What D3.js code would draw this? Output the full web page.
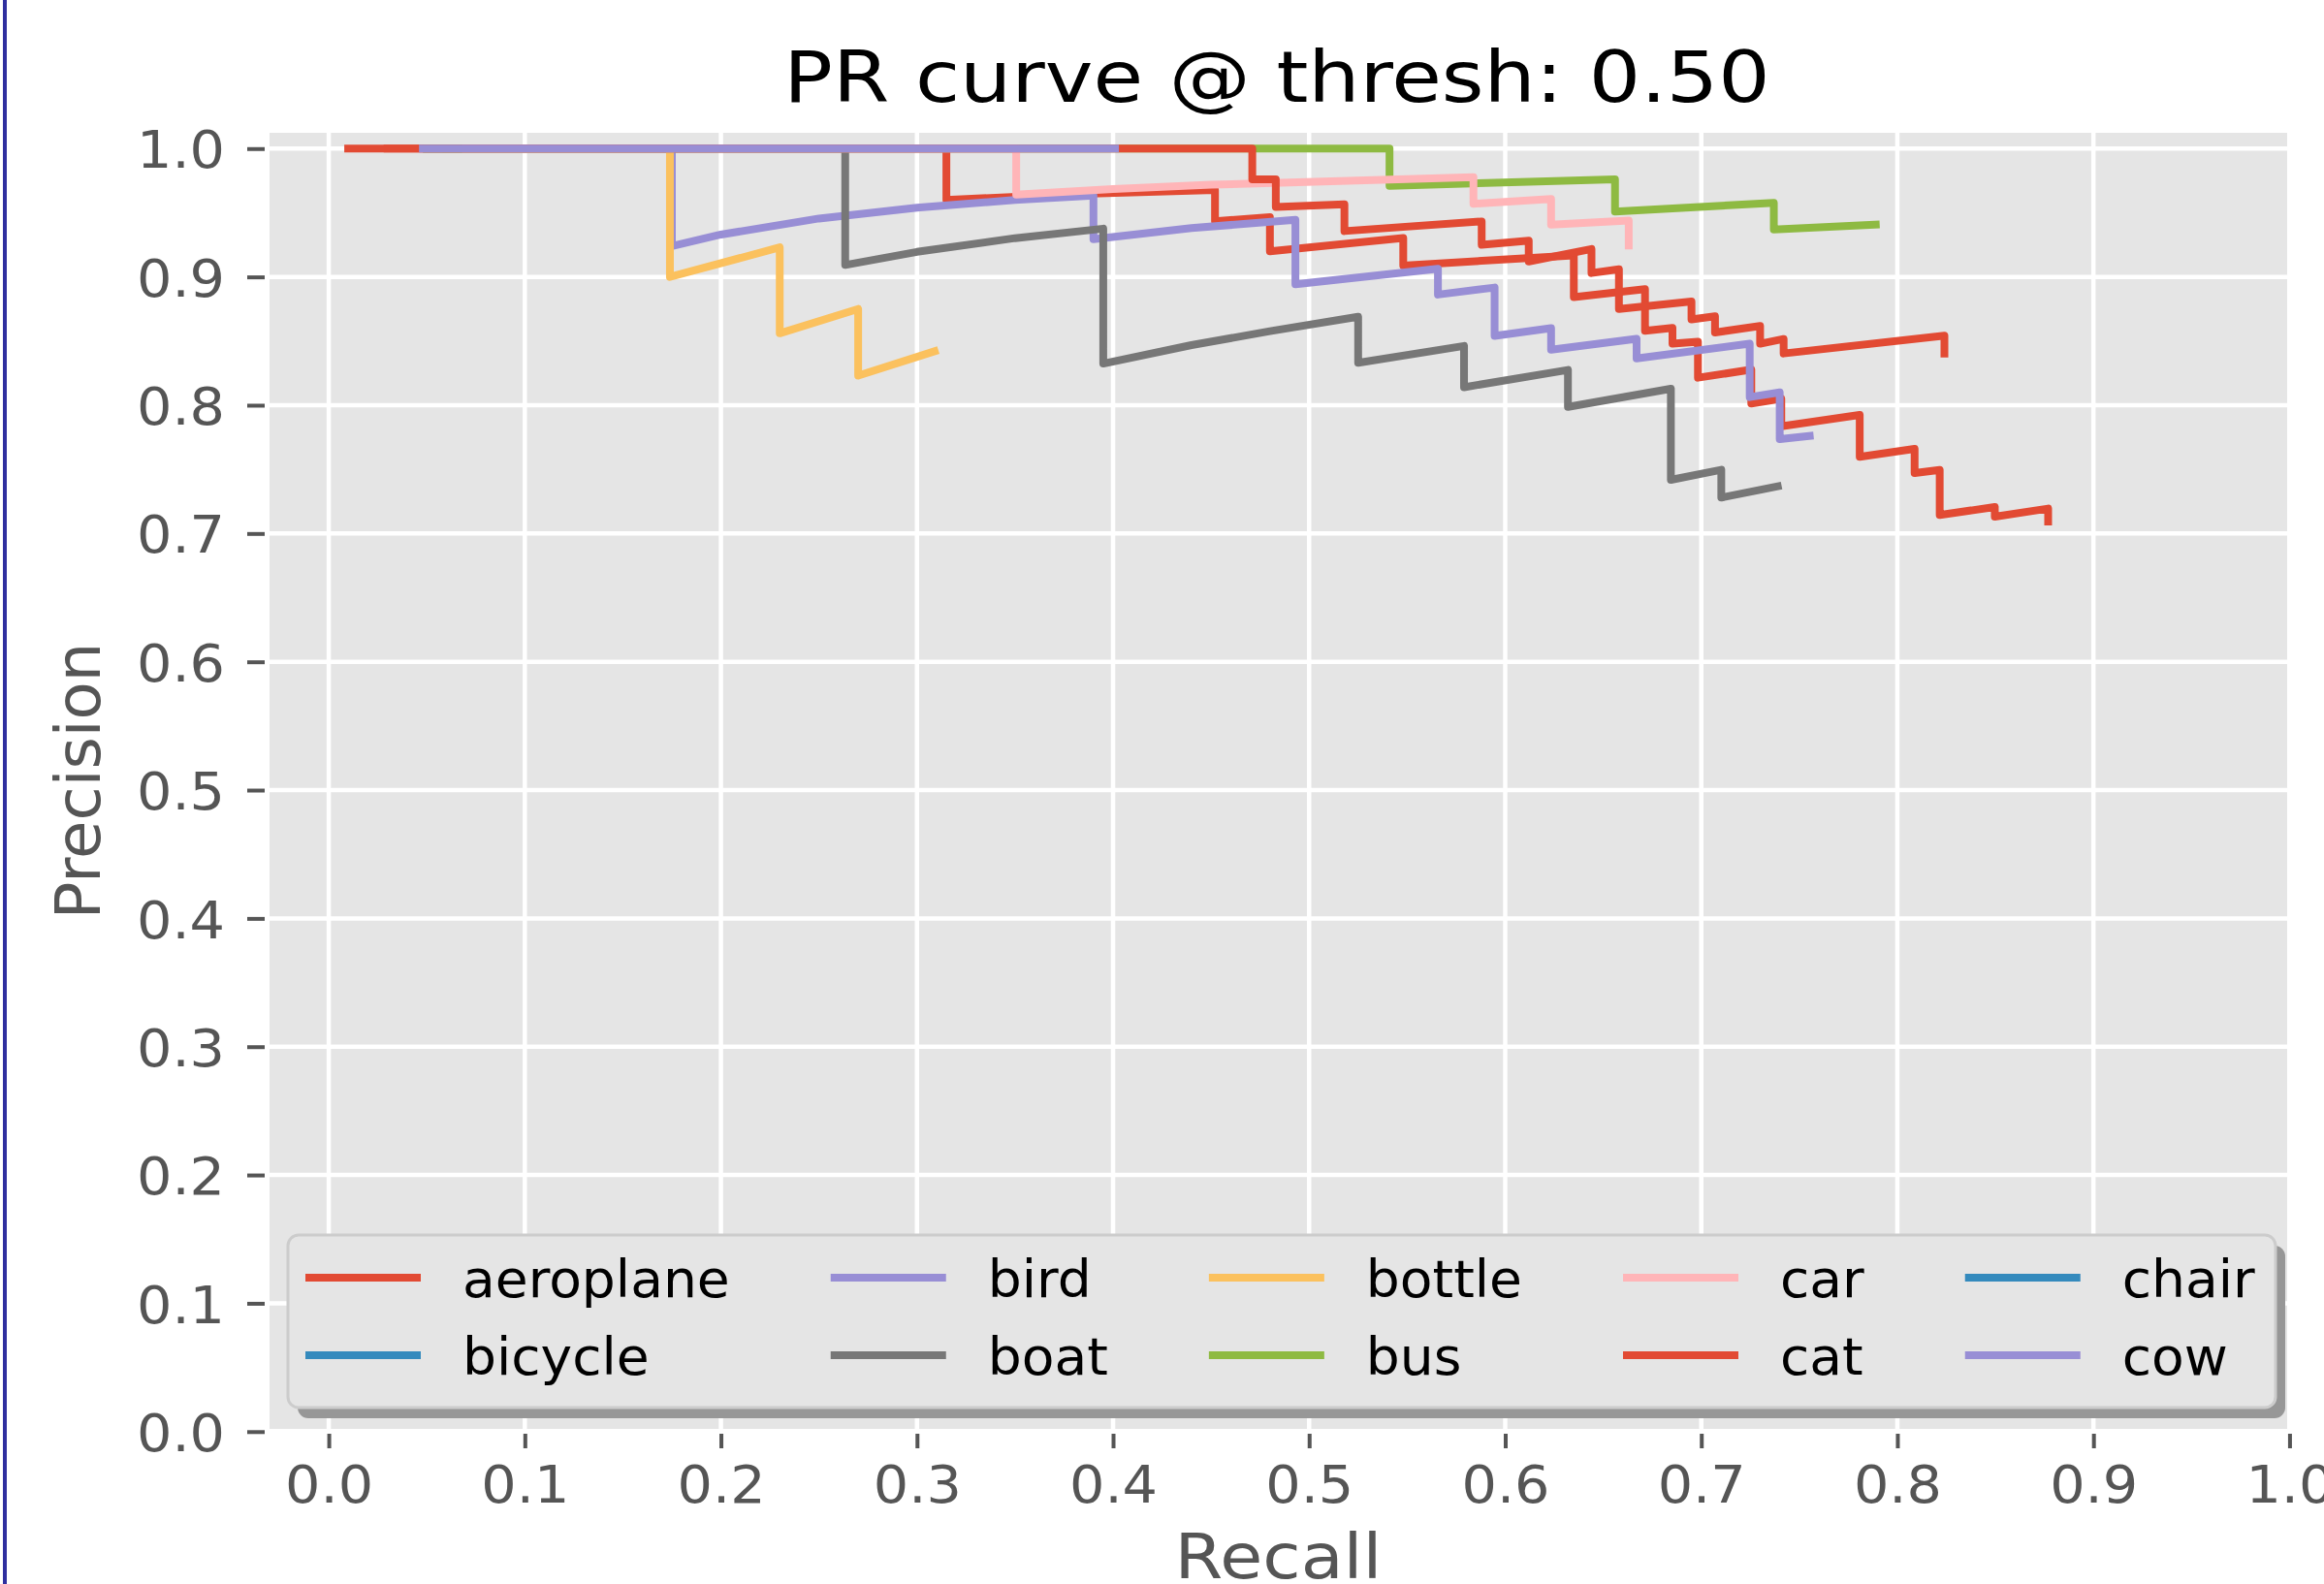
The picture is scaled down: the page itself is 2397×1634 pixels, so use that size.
<!DOCTYPE html>
<html>
<head>
<meta charset="utf-8">
<script src="https://cdn.jsdelivr.net/npm/d3@7"></script>
<style>
  body { margin: 0; background: #fff; }
  svg { display: block; font-family: "DejaVu Sans", sans-serif; }
</style>
</head>
<body>
<svg id="chart" width="2397" height="1634"></svg>
<script>
//class names, in the order they are plotted
var classes = ["aeroplane", "bicycle", "bird", "boat", "bottle", "bus", "car", "cat", "chair", "cow"];

//[recall, precision] points
var aeroplanePts = [[0.03,1.0],[0.315,1.0],[0.315,0.960],[0.38,0.9645],[0.452,0.9677],[0.452,0.9433],[0.480,0.9466],
    [0.480,0.9200],[0.548,0.9303],[0.548,0.9088],[0.635,0.9168],[0.635,0.8842],[0.6713,0.8905],[0.6713,0.858],
    [0.6853,0.8603],[0.6853,0.8479],[0.6983,0.8495],[0.6983,0.8214],[0.7255,0.8277],[0.7255,0.8013],[0.7408,0.805],
    [0.7408,0.7836],[0.7808,0.7924],[0.7808,0.7597],[0.8088,0.766],[0.8088,0.7471],[0.8216,0.7496],[0.8216,0.7144],
    [0.8497,0.7207],[0.8497,0.7131],[0.8769,0.7194],[0.8769,0.7093]];
var bicyclePts = [];
var birdPts = [[0.06,1.0],[0.175,1.0],[0.175,0.924],[0.20,0.933],[0.25,0.9455],[0.30,0.954],[0.35,0.960],[0.390,0.9634],
    [0.390,0.9294],[0.44,0.938],[0.493,0.9445],[0.493,0.8942],[0.5657,0.9063],[0.5657,0.8862],[0.5946,0.8917],
    [0.5946,0.854],[0.6234,0.860],[0.6234,0.8432],[0.6670,0.8518],[0.6670,0.8365],[0.7247,0.8479],[0.7247,0.8063],
    [0.740,0.810],[0.740,0.7736],[0.7553,0.776]];
var boatPts = [[0.05,1.0],[0.2634,1.0],[0.2634,0.9093],[0.30,0.9195],[0.35,0.9302],[0.395,0.9376],[0.395,0.8324],
    [0.44,0.8468],[0.48,0.8577],[0.525,0.8689],[0.525,0.8330],[0.579,0.8462],[0.579,0.8140],[0.632,0.8275],
    [0.632,0.7987],[0.6845,0.8128],[0.6845,0.7418],[0.7102,0.7497],[0.7102,0.7280],[0.739,0.7368]];
var bottlePts = [[0.06,1.0],[0.174,1.0],[0.174,0.900],[0.230,0.923],[0.230,0.856],[0.270,0.875],[0.270,0.823],[0.309,0.842]];
var busPts = [[0.05,1.0],[0.541,1.0],[0.541,0.971],[0.656,0.976],[0.656,0.951],[0.737,0.9577],[0.737,0.937],[0.789,0.9408]];
var carPts = [[0.07,1.0],[0.3506,1.0],[0.3506,0.9641],[0.40,0.9684],[0.45,0.9718],[0.5838,0.9778],[0.5838,0.957],
    [0.6234,0.9608],[0.6234,0.9407],[0.663,0.9440],[0.663,0.9244]];
var catPts = [[0.0099,1.0],[0.471,1.0],[0.471,0.976],[0.483,0.976],[0.483,0.9545],[0.518,0.9565],[0.518,0.9357],
    [0.588,0.9432],[0.588,0.925],[0.612,0.9282],[0.612,0.912],[0.644,0.9217],[0.644,0.903],[0.658,0.906],[0.658,0.875],
    [0.695,0.8808],[0.695,0.8668],[0.707,0.8693],[0.707,0.8567],[0.730,0.8617],[0.730,0.8479],[0.742,0.8516],
    [0.742,0.8403],[0.824,0.8542],[0.824,0.8403]];
var chairPts = [];
var cowPts = [[0.048,1.0],[0.401,1.0]];

var seriesPts = [aeroplanePts, bicyclePts, birdPts, boatPts, bottlePts, busPts, carPts, catPts, chairPts, cowPts];

//axis ticks
var xTickValues = [0.0, 0.1, 0.2, 0.3, 0.4, 0.5, 0.6, 0.7, 0.8, 0.9, 1.0];
var yTickValues = [0.0, 0.1, 0.2, 0.3, 0.4, 0.5, 0.6, 0.7, 0.8, 0.9, 1.0];

//ggplot colour cycle
var palette = ["#E24A33", "#348ABD", "#988ED5", "#777777", "#FBC15E", "#8EBA42", "#FFB5B8"];

var plot = { left: 278, right: 2359, top: 137, bottom: 1474 };
//text in the picture is a bit wider than plain DejaVu Sans
var tickStretch = 1.08, labelStretch = 1.12, titleStretch = 1.15, legendStretch = 1.04;
var svg = d3.select("#chart");

//thin frame line on the left of the picture
svg.append("rect").attr("x", 3).attr("y", 0).attr("width", 4).attr("height", 1634).attr("fill", "#2f2f9f");

var x = d3.scaleLinear().domain([-0.0302, 0.9988]).range([plot.left, plot.right]);
var y = d3.scaleLinear().domain([0.0021, 1.0123]).range([plot.bottom, plot.top]);

//grey panel
svg.append("rect")
    .attr("x", plot.left).attr("y", plot.top)
    .attr("width", plot.right - plot.left).attr("height", plot.bottom - plot.top)
    .attr("fill", "#E5E5E5");

svg.append("clipPath").attr("id", "clip").append("rect")
    .attr("x", plot.left).attr("y", plot.top)
    .attr("width", plot.right - plot.left).attr("height", plot.bottom - plot.top);

//white grid
var grid = svg.append("g").attr("clip-path", "url(#clip)");
grid.selectAll("line.vx").data(xTickValues).enter().append("line")
    .attr("x1", function(d) { return x(d); }).attr("x2", function(d) { return x(d); })
    .attr("y1", plot.top).attr("y2", plot.bottom)
    .attr("stroke", "#fff").attr("stroke-width", 4.5);
grid.selectAll("line.hy").data(yTickValues).enter().append("line")
    .attr("y1", function(d) { return y(d); }).attr("y2", function(d) { return y(d); })
    .attr("x1", plot.left).attr("x2", plot.right)
    .attr("stroke", "#fff").attr("stroke-width", 4.5);

//axes
var fmt = d3.format(".1f");
var xaxis = svg.append("g")
    .attr("transform", "translate(0,1479)")
    .call(d3.axisBottom(x).tickValues(xTickValues).tickFormat(fmt).tickSize(15).tickPadding(18));
var yaxis = svg.append("g")
    .attr("transform", "translate(273,0)")
    .call(d3.axisLeft(y).tickValues(yTickValues).tickFormat(fmt).tickSize(18).tickPadding(23));
[xaxis, yaxis].forEach(function(ax) {
    ax.select(".domain").remove();
    ax.attr("font-family", "DejaVu Sans").attr("font-size", 53);
    ax.selectAll(".tick line").attr("stroke", "#555555").attr("stroke-width", 4);
    ax.selectAll(".tick text").attr("fill", "#555555")
        .attr("transform", "scale(" + tickStretch + ",1)");
});
yaxis.selectAll(".tick text").attr("dy", "0.37em").attr("x", -41 / tickStretch);

//curves
var line = d3.line()
    .x(function(d) { return x(d[0]); })
    .y(function(d) { return y(d[1]); });
var curves = svg.append("g");
seriesPts.forEach(function(pts, i) {
    if (pts.length == 0) return;
    curves.append("path")
        .attr("d", line(pts))
        .attr("fill", "none")
        .attr("stroke", palette[i % palette.length])
        .attr("stroke-width", 8)
        .attr("stroke-linejoin", "round")
        .attr("stroke-linecap", "square");
});

//title and axis labels
svg.append("text")
    .attr("transform", "translate(1317,105) scale(" + titleStretch + ",1)")
    .attr("text-anchor", "middle").attr("font-size", 73).attr("fill", "#000")
    .text("PR curve @ thresh: 0.50");
svg.append("text")
    .attr("transform", "translate(" + ((plot.left + plot.right) / 2) + ",1628) scale(" + labelStretch + ",1)")
    .attr("text-anchor", "middle").attr("font-size", 64).attr("fill", "#555555")
    .text("Recall");
svg.append("text")
    .attr("transform", "translate(103," + ((plot.top + plot.bottom) / 2) + ") rotate(-90)")
    .attr("text-anchor", "middle").attr("font-size", 64).attr("fill", "#555555")
    .text("Precision");

//legend, 5 columns filled column by column
var legend = svg.append("g");
var box = { x: 297, y: 1274, w: 2050, h: 178 };
legend.append("rect").attr("x", box.x + 10).attr("y", box.y + 11)
    .attr("width", box.w).attr("height", box.h).attr("rx", 11).attr("fill", "#979797");
legend.append("rect").attr("x", box.x).attr("y", box.y)
    .attr("width", box.w).attr("height", box.h).attr("rx", 11)
    .attr("fill", "#E5E5E5").attr("stroke", "#CCCCCC").attr("stroke-width", 3);

var rowY = [1318, 1398];
var colX = 315;
for (var c = 0; c < 5; c++) {
    var maxW = 0;
    for (var r = 0; r < 2; r++) {
        var k = c * 2 + r;
        legend.append("line")
            .attr("x1", colX).attr("x2", colX + 119)
            .attr("y1", rowY[r]).attr("y2", rowY[r])
            .attr("stroke", palette[k % palette.length]).attr("stroke-width", 8);
        var t = legend.append("text")
            .attr("transform", "translate(" + (colX + 162) + "," + (rowY[r] + 19.5) + ") scale(" + legendStretch + ",1)")
            .attr("font-size", 53).attr("fill", "#000")
            .text(classes[k]);
        maxW = Math.max(maxW, t.node().getComputedTextLength() * legendStretch);
    }
    colX = colX + 162 + maxW + 104;
}
</script>
</body>
</html>
